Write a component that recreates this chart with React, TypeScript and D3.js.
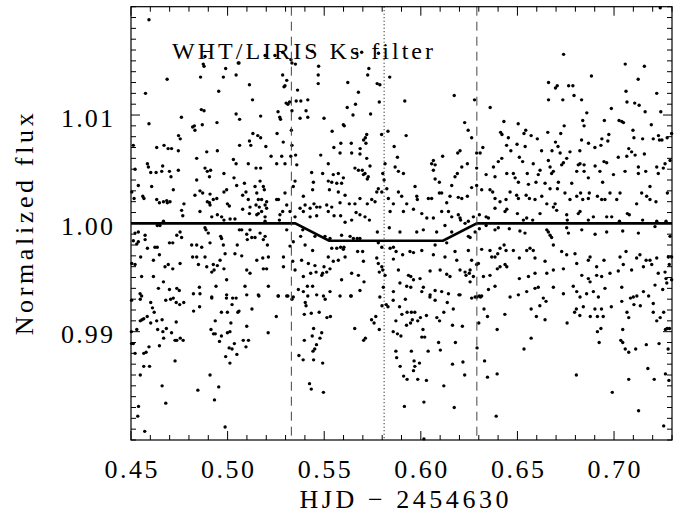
import React from "react";
import * as d3 from "d3";

// Observations: [HJD - 2454630, normalized flux]
const observations: [number, number][] = [
  // upper band
  [0.4593,1.0188],[0.4575,1.0120],[0.4593,1.0092],[0.4512,1.0072],[0.4633,1.0070],[0.4687,1.0133],[0.4671,1.0072],[0.4692,1.0069],[0.4710,1.0069],
  [0.4746,1.0081],[0.4755,1.0078],[0.4761,1.0098],[0.4819,1.0089],[0.4828,1.0090],[0.4831,1.0086],[0.4860,1.0135],[0.4864,1.0105],[0.4878,1.0104],
  [0.4869,1.0091],[0.4878,1.0145],[0.4945,1.0093],[0.4954,1.0122],[0.4978,1.0135],[0.4990,1.0143],[0.5044,1.0137],[0.5044,1.0101],[0.5062,1.0096],
  [0.5059,1.0148],[0.5062,1.0072],[0.5113,1.0128],[0.5113,1.0076],[0.5120,1.0072],[0.5129,1.0114],[0.5131,1.0083],[0.5156,1.0081],[0.5171,1.0079],
  [0.5171,1.0099],[0.5194,1.0155],[0.5198,1.0071],[0.5256,1.0083],[0.5261,1.0103],[0.5270,1.0098],[0.5274,1.0096],[0.5285,1.0137],[0.5292,1.0126],
  [0.5297,1.0127],[0.5288,1.0075],[0.5306,1.0132],[0.5303,1.0111],[0.5312,1.0110],[0.5321,1.0112],[0.5333,1.0148],[0.5351,1.0147],[0.5333,1.0104],
  [0.5330,1.0086],[0.5333,1.0072],[0.5362,1.0123],[0.5355,1.0113],[0.5379,1.0113],[0.5415,1.0114],[0.5375,1.0097],[0.5406,1.0104],[0.5415,1.0098],
  [0.5438,1.0159],[0.5471,1.0145],[0.5469,1.0137],[0.5469,1.0129],[0.5499,1.0097],[0.5541,1.0085],[0.5550,1.0070],[0.5586,1.0074],[0.5599,1.0091],
  [0.5604,1.0090],[0.5622,1.0130],[0.5619,1.0107],[0.5640,1.0074],[0.5649,1.0100],[0.5662,1.0110],[0.5677,1.0121],[0.5686,1.0069],[0.5704,1.0077],
  [0.5713,1.0079],[0.5720,1.0082],[0.5716,1.0074],[0.5725,1.0137],[0.5731,1.0143],[0.5740,1.0101],[0.5774,1.0129],[0.5788,1.0128],[0.5785,1.0112],
  [0.5781,1.0157],[0.5797,1.0082],[0.5830,1.0085],[0.5839,1.0135],[0.5862,1.0071],[0.5917,1.0113],[0.5924,1.0081],
  [0.4874,1.0147],[0.4883,1.0154],[0.5055,1.0148],[0.5245,1.0155],[0.5285,1.0158],[0.5328,1.0151],[0.5668,1.0157],[0.5694,1.0158],
  [0.6173,1.0118],[0.6278,1.0114],[0.6227,1.0093],[0.6245,1.0086],[0.6263,1.0079],[0.6321,1.0070],[0.6359,1.0107],[0.6413,1.0084],[0.6420,1.0082],
  [0.6430,1.0094],[0.6444,1.0072],[0.6453,1.0079],[0.6466,1.0067],[0.6498,1.0073],[0.6504,1.0092],[0.6534,1.0083],[0.6543,1.0086],[0.6540,1.0071],
  [0.6571,1.0081],[0.6603,1.0078],[0.6625,1.0067],[0.6657,1.0084],[0.6661,1.0130],[0.6661,1.0114],[0.6679,1.0067],[0.6697,1.0125],[0.6706,1.0127],
  [0.6697,1.0075],[0.6710,1.0071],[0.6724,1.0083],[0.6739,1.0156],[0.6735,1.0114],[0.6742,1.0090],[0.6765,1.0127],[0.6787,1.0127],[0.6793,1.0118],
  [0.6823,1.0067],[0.6832,1.0114],[0.6838,1.0095],[0.6845,1.0090],[0.6859,1.0102],[0.6832,1.0077],[0.6868,1.0074],[0.6883,1.0136],[0.6901,1.0070],
  [0.6932,1.0072],[0.6937,1.0078],[0.6950,1.0095],[0.6968,1.0076],[0.6973,1.0082],[0.6986,1.0106],[0.7026,1.0095],[0.7040,1.0094],[0.7049,1.0093],
  [0.7058,1.0147],[0.7062,1.0122],[0.7067,1.0112],[0.7076,1.0069],[0.7098,1.0086],[0.7107,1.0111],[0.7130,1.0109],[0.7103,1.0079],[0.7125,1.0133],
  [0.7148,1.0078],[0.7157,1.0145],[0.7161,1.0103],[0.7193,1.0091],[0.7203,1.0078],[0.7221,1.0120],[0.7230,1.0081],[0.7235,1.0077],[0.7248,1.0077],
  [0.7242,1.0103],[0.7239,1.0199],[0.7275,1.0079],[0.7298,1.0083],
  // middle band, left part
  [0.4745,1.0067],[0.4892,1.0066],[0.4947,1.0067],[0.5352,1.0063],[0.5280,1.0062],[0.5327,1.0062],[0.5225,1.0062],[0.5482,1.0063],[0.5582,1.0065],
  [0.5642,1.0065],[0.5685,1.0064],[0.4840,1.0060],[0.5720,1.0060],[0.5030,1.0059],[0.5044,1.0055],[0.4585,1.0055],[0.4664,1.0053],[0.5107,1.0055],
  [0.5254,1.0055],[0.5297,1.0055],[0.5358,1.0054],[0.5521,1.0055],[0.5737,1.0053],[0.5659,1.0051],[0.5677,1.0049],[0.5697,1.0049],[0.5711,1.0046],
  [0.5728,1.0043],[0.4521,1.0050],[0.4590,1.0052],[0.4602,1.0047],[0.4630,1.0047],[0.4659,1.0048],[0.4699,1.0048],[0.4745,1.0049],[0.4883,1.0051],
  [0.4895,1.0048],[0.4912,1.0049],[0.5147,1.0051],[0.5171,1.0051],[0.5435,1.0047],[0.5492,1.0046],[0.4981,1.0046],[0.4906,1.0043],[0.4707,1.0043],
  [0.5573,1.0046],[0.5547,1.0045],[0.5521,1.0039],[0.5565,1.0037],[0.5590,1.0037],[0.5539,1.0038],[0.4840,1.0040],[0.5033,1.0042],[0.4538,1.0035],
  [0.4607,1.0034],[0.5047,1.0035],[0.5087,1.0037],[0.5142,1.0034],[0.5168,1.0039],[0.5185,1.0034],[0.5444,1.0038],[0.5440,1.0031],[0.5349,1.0039],
  [0.5340,1.0034],[0.5599,1.0042],[0.5703,1.0045],[0.5723,1.0041],[0.4719,1.0031],[0.4857,1.0030],[0.4871,1.0028],[0.4909,1.0027],[0.4831,1.0026],
  [0.4944,1.0023],[0.4981,1.0029],[0.4995,1.0031],[0.5095,1.0029],[0.5078,1.0026],[0.5151,1.0028],[0.5159,1.0022],[0.5176,1.0022],[0.5190,1.0031],
  [0.5254,1.0022],[0.5297,1.0028],[0.5527,1.0031],[0.5573,1.0029],[0.5608,1.0026],[0.5685,1.0023],[0.5772,1.0029],[0.5780,1.0032],[0.4561,1.0025],
  [0.4567,1.0023],[0.4633,1.0022],[0.4516,1.0023],[0.4504,1.0029],[0.4685,1.0021],[0.4702,1.0020],[0.4688,1.0019],[0.4774,1.0018],[0.4895,1.0020],
  [0.4906,1.0019],[0.4926,1.0022],[0.4909,1.0017],[0.4999,1.0018],[0.5009,1.0016],[0.5078,1.0013],[0.5107,1.0022],[0.5116,1.0015],[0.5147,1.0017],
  [0.5164,1.0015],[0.5202,1.0014],[0.5194,1.0017],[0.5202,1.0020],[0.5263,1.0022],[0.5306,1.0017],[0.5392,1.0025],[0.5401,1.0017],[0.5447,1.0018],
  [0.5427,1.0014],[0.5461,1.0015],[0.5478,1.0015],[0.5513,1.0017],[0.5539,1.0015],[0.5582,1.0019],[0.5630,1.0018],[0.5659,1.0018],[0.5723,1.0018],
  [0.5746,1.0022],[0.5763,1.0020],[0.4647,1.0019],[0.4668,1.0020],[0.4762,1.0012],[0.4857,1.0011],[0.4768,1.0007],[0.4918,1.0006],[0.4947,1.0008],
  [0.4969,1.0006],[0.5013,1.0004],[0.5038,1.0004],[0.4981,1.0003],[0.5113,1.0009],[0.5159,1.0009],[0.5151,1.0008],[0.5176,1.0011],[0.5194,1.0006],
  [0.5194,1.0002],[0.5268,1.0003],[0.5271,1.0008],[0.5285,1.0011],[0.5323,1.0011],[0.5349,1.0006],[0.5375,1.0014],[0.5392,1.0011],[0.5427,1.0006],
  [0.5461,1.0007],[0.5521,1.0011],[0.5551,1.0007],[0.5585,1.0007],[0.5608,1.0001],[0.5665,1.0010],[0.5642,1.0003],[0.5685,1.0008],[0.5711,1.0006],
  [0.5734,1.0003],[0.4668,1.0002],[0.4636,0.9998],[0.4650,0.9998],
  [0.4521,0.9991],[0.4538,0.9992],[0.4573,0.9989],[0.4754,0.9992],[0.4737,0.9989],[0.4883,0.9996],[0.4888,0.9994],[0.4900,0.9991],[0.5061,0.9994],
  [0.5073,0.9994],[0.5116,0.9994],[0.5099,0.9990],[0.5125,0.9987],[0.5142,0.9987],[0.5168,0.9991],[0.5194,0.9988],[0.5185,0.9985],[0.5306,0.9994],
  [0.5389,0.9994],[0.5378,0.9988],[0.5452,0.9988],[0.5504,0.9988],[0.5530,0.9986],[0.5590,0.9989],[0.5634,0.9988],[0.5651,0.9986],[0.5671,0.9986],
  [0.5685,0.9986],[0.5775,0.9992],[0.5539,0.9977],[0.4573,0.9985],
  [0.4512,0.9984],[0.4530,0.9981],[0.4538,0.9983],[0.4585,0.9977],[0.4624,0.9978],[0.4636,0.9978],[0.4699,0.9982],[0.4716,0.9982],[0.4762,0.9987],
  [0.4814,0.9980],[0.4840,0.9980],[0.4866,0.9978],[0.4909,0.9982],[0.4964,0.9988],[0.4969,0.9986],[0.4978,0.9980],[0.5050,0.9980],[0.5102,0.9985],
  [0.5206,0.9980],[0.5323,0.9979],[0.5340,0.9983],[0.5401,0.9980],[0.5440,0.9975],[0.5565,0.9977],[0.5585,0.9978],[0.5602,0.9978],[0.5673,0.9974],
  [0.5699,0.9974],[0.5780,0.9982],[0.5599,0.9976],
  [0.4504,0.9963],[0.4521,0.9962],[0.4550,0.9969],[0.4616,0.9966],[0.4647,0.9971],[0.4819,0.9969],[0.4840,0.9969],[0.4883,0.9969],[0.4892,0.9960],
  [0.4926,0.9962],[0.4947,0.9961],[0.4961,0.9966],[0.4987,0.9972],[0.5038,0.9972],[0.5073,0.9970],[0.5151,0.9966],[0.5182,0.9968],[0.5211,0.9969],
  [0.5289,0.9969],[0.5337,0.9965],[0.5383,0.9966],[0.5418,0.9963],[0.5452,0.9961],[0.5499,0.9960],[0.5521,0.9969],[0.5547,0.9965],[0.5573,0.9966],
  [0.5608,0.9969],[0.5703,0.9965],[0.5780,0.9963],[0.5772,0.9968],
  [0.4555,0.9951],[0.4676,0.9960],[0.4693,0.9962],[0.4716,0.9958],[0.4754,0.9963],[0.4849,0.9962],[0.4918,0.9955],[0.4930,0.9957],[0.4981,0.9958],
  [0.4995,0.9948],[0.5116,0.9954],[0.5099,0.9957],[0.5185,0.9958],[0.5202,0.9958],[0.5289,0.9960],[0.5349,0.9957],[0.5392,0.9951],[0.5430,0.9954],
  [0.5458,0.9955],[0.5492,0.9954],[0.5487,0.9952],[0.5513,0.9955],[0.5530,0.9958],[0.5590,0.9948],[0.5642,0.9954],[0.5677,0.9952],[0.5706,0.9946],
  [0.5785,0.9955],[0.4616,0.9951],[0.4668,0.9946],[0.4699,0.9939],[0.4737,0.9940],[0.4750,0.9938],[0.4642,0.9940],[0.4823,0.9935],[0.4854,0.9941],
  [0.4857,0.9935],[0.4918,0.9932],[0.4940,0.9942],[0.4995,0.9934],[0.5044,0.9931],[0.5090,0.9942],[0.5099,0.9934],[0.5159,0.9934],[0.5211,0.9942],
  [0.5263,0.9933],[0.5306,0.9933],[0.5340,0.9932],[0.5366,0.9939],[0.5392,0.9937],[0.5413,0.9942],[0.5440,0.9942],[0.5461,0.9934],[0.5496,0.9933],
  [0.5530,0.9937],[0.5582,0.9933],[0.5637,0.9933],[0.5685,0.9938],[0.4547,0.9935],[0.4555,0.9933],
  // middle band, right part
  [0.5815,1.0055],[0.5879,1.0061],[0.5867,1.0052],[0.5910,1.0046],[0.5884,1.0048],[0.6065,1.0058],[0.6074,1.0054],[0.6113,1.0062],[0.6056,1.0055],
  [0.6191,1.0065],[0.6203,1.0067],[0.6212,1.0052],[0.6241,1.0055],[0.6289,1.0065],[0.6307,1.0065],[0.6401,1.0057],[0.6419,1.0060],[0.6510,1.0061],
  [0.6527,1.0057],[0.6582,1.0055],[0.6617,1.0049],[0.6660,1.0058],[0.6669,1.0052],[0.6686,1.0048],[0.6729,1.0054],[0.6738,1.0056],[0.6721,1.0065],
  [0.6772,1.0066],[0.6755,1.0060],[0.6815,1.0054],[0.6824,1.0055],[0.6845,1.0054],[0.6902,1.0053],[0.6948,1.0057],[0.6962,1.0056],[0.7022,1.0061],
  [0.7066,1.0062],[0.7091,1.0066],[0.7109,1.0063],[0.7157,1.0064],[0.7126,1.0052],[0.7221,1.0052],[0.7264,1.0055],[0.7290,1.0058],
  [0.5803,1.0046],[0.5810,1.0040],[0.5824,1.0032],[0.6074,1.0041],[0.6096,1.0038],[0.6177,1.0043],[0.6189,1.0046],[0.6160,1.0035],[0.6065,1.0049],
  [0.6289,1.0051],[0.6338,1.0045],[0.6376,1.0052],[0.6384,1.0043],[0.6445,1.0046],[0.6479,1.0046],[0.6488,1.0042],[0.6505,1.0038],[0.6551,1.0046],
  [0.6557,1.0036],[0.6596,1.0038],[0.6608,1.0045],[0.6643,1.0037],[0.6677,1.0046],[0.6712,1.0038],[0.6781,1.0037],[0.6807,1.0048],[0.6845,1.0048],
  [0.6867,1.0042],[0.6927,1.0048],[0.6941,1.0038],[0.6997,1.0045],[0.7057,1.0048],[0.7126,1.0046],[0.7164,1.0048],[0.7186,1.0034],[0.7229,1.0046],
  [0.7255,1.0051],[0.5798,1.0029],[0.5884,1.0029],[0.5970,1.0034],
  [0.5832,1.0023],[0.5858,1.0018],[0.5901,1.0025],[0.5927,1.0018],[0.5979,1.0025],[0.5982,1.0022],[0.6039,1.0023],[0.6056,1.0023],[0.6096,1.0028],
  [0.6108,1.0028],[0.6134,1.0019],[0.6151,1.0025],[0.6194,1.0024],[0.6212,1.0023],[0.6241,1.0025],[0.6263,1.0033],[0.6289,1.0035],[0.6315,1.0031],
  [0.6358,1.0031],[0.6372,1.0029],[0.6384,1.0023],[0.6410,1.0020],[0.6441,1.0022],[0.6462,1.0029],[0.6496,1.0026],[0.6505,1.0023],[0.6545,1.0026],
  [0.6562,1.0023],[0.6591,1.0022],[0.6626,1.0025],[0.6669,1.0032],[0.6695,1.0018],[0.6707,1.0032],[0.6746,1.0028],[0.6772,1.0022],[0.6807,1.0025],
  [0.6827,1.0028],[0.6838,1.0022],[0.6867,1.0023],[0.6872,1.0028],[0.6914,1.0025],[0.6936,1.0022],[0.6953,1.0022],[0.6979,1.0028],[0.7014,1.0022],
  [0.7031,1.0028],[0.7117,1.0018],[0.7143,1.0028],[0.7169,1.0025],[0.7186,1.0022],[0.7217,1.0020],[0.7276,1.0028],
  [0.5841,1.0011],[0.5910,1.0011],[0.5962,1.0013],[0.6005,1.0009],[0.6031,1.0005],[0.6065,1.0005],[0.6108,1.0011],[0.6143,1.0011],[0.6160,1.0006],
  [0.6194,1.0008],[0.6203,1.0005],[0.6246,1.0002],[0.6272,1.0006],[0.6303,1.0008],[0.6338,1.0006],[0.6350,1.0005],[0.6384,1.0014],[0.6436,1.0011],
  [0.6445,1.0013],[0.6500,1.0009],[0.6531,1.0003],[0.6548,1.0005],[0.6579,1.0003],[0.6617,1.0009],[0.6652,1.0018],[0.6686,1.0015],[0.6703,1.0012],
  [0.6755,1.0008],[0.6758,1.0003],[0.6815,1.0009],[0.6824,1.0011],[0.6867,1.0003],[0.6893,1.0006],[0.6962,1.0006],[0.6988,1.0006],[0.7028,1.0002],
  [0.7069,1.0009],[0.7079,1.0008],[0.7148,1.0003],[0.7221,1.0002],[0.7269,1.0002],
  [0.5837,0.9996],[0.5892,0.9992],[0.5979,0.9992],[0.6013,0.9994],[0.6082,0.9992],[0.6125,0.9998],[0.6160,0.9992],[0.6206,1.0003],[0.6229,1.0000],
  [0.6246,0.9988],[0.6255,0.9987],[0.6281,0.9992],[0.6303,0.9995],[0.6338,0.9998],[0.6384,0.9994],[0.6401,0.9996],[0.6458,0.9995],[0.6513,0.9993],
  [0.6539,0.9991],[0.6652,0.9994],[0.6660,0.9992],[0.6669,0.9989],[0.6677,0.9987],[0.6755,0.9996],[0.6764,0.9991],[0.6833,0.9994],[0.6902,0.9990],
  [0.6962,0.9992],[0.7045,0.9993],[0.7126,0.9991],[0.7212,0.9997],[0.7290,0.9988],
  [0.5798,0.9978],[0.5841,0.9977],[0.5858,0.9978],[0.5872,0.9974],[0.5944,0.9974],[0.5962,0.9973],[0.6005,0.9975],[0.6065,0.9971],[0.6074,0.9980],
  [0.6125,0.9969],[0.6134,0.9982],[0.6177,0.9974],[0.6186,0.9966],[0.6246,0.9975],[0.6263,0.9966],[0.6315,0.9976],[0.6358,0.9975],[0.6367,0.9969],
  [0.6384,0.9969],[0.6398,0.9972],[0.6410,0.9977],[0.6431,0.9980],[0.6441,0.9975],[0.6479,0.9975],[0.6510,0.9968],[0.6548,0.9975],[0.6565,0.9977],
  [0.6582,0.9975],[0.6591,0.9968],[0.6643,0.9965],[0.6686,0.9980],[0.6729,0.9974],[0.6755,0.9971],[0.6798,0.9972],[0.6807,0.9963],[0.6867,0.9966],
  [0.6876,0.9969],[0.6910,0.9960],[0.6948,0.9966],[0.7031,0.9969],[0.7062,0.9974],[0.7117,0.9968],[0.7134,0.9971],[0.7166,0.9966],[0.7186,0.9966],
  [0.7221,0.9968],[0.7281,0.9969],[0.7298,0.9969],[0.7286,0.9962],[0.5858,0.9967],[0.5906,0.9971],[0.5798,0.9960],
  [0.5803,0.9957],[0.5815,0.9952],[0.5884,0.9957],[0.5936,0.9952],[0.5948,0.9951],[0.5962,0.9948],[0.5996,0.9949],[0.6048,0.9956],[0.6100,0.9957],
  [0.6134,0.9953],[0.6151,0.9951],[0.6203,0.9957],[0.6229,0.9955],[0.6234,0.9952],[0.6251,0.9954],[0.6255,0.9957],[0.6289,0.9962],[0.6298,0.9963],
  [0.6324,0.9951],[0.6358,0.9952],[0.6396,0.9958],[0.6410,0.9960],[0.6436,0.9962],[0.6445,0.9960],[0.6510,0.9949],[0.6557,0.9951],[0.6591,0.9954],
  [0.6652,0.9954],[0.6686,0.9957],[0.6738,0.9958],[0.6789,0.9942],[0.6833,0.9952],[0.6867,0.9949],[0.6876,0.9946],[0.6910,0.9952],[0.6936,0.9951],
  [0.6979,0.9954],[0.7022,0.9956],[0.7048,0.9962],[0.7091,0.9957],[0.7152,0.9960],[0.7195,0.9962],[0.7229,0.9954],[0.7264,0.9955],[0.7269,0.9949],
  [0.5806,0.9941],[0.5858,0.9937],[0.5892,0.9945],[0.5927,0.9942],[0.5948,0.9941],[0.6013,0.9941],[0.6005,0.9937],[0.6048,0.9934],[0.6074,0.9938],
  [0.6108,0.9937],[0.6143,0.9935],[0.6203,0.9934],[0.6255,0.9946],[0.6272,0.9951],[0.6281,0.9932],[0.6303,0.9933],[0.6315,0.9933],[0.6350,0.9939],
  [0.6384,0.9942],[0.6462,0.9932],[0.6505,0.9934],[0.6548,0.9937],[0.6591,0.9940],[0.6608,0.9941],[0.6634,0.9931],[0.6686,0.9941],[0.6738,0.9935],
  [0.6807,0.9937],[0.6824,0.9932],[0.6858,0.9935],[0.6893,0.9937],[0.6919,0.9932],[0.6953,0.9940],[0.7040,0.9941],[0.7100,0.9932],[0.7152,0.9937],
  [0.7212,0.9943],[0.7252,0.9939],[0.7273,0.9945],[0.7298,0.9948],
  // lower band
  [0.4503,0.9929],[0.4548,0.9930],[0.4602,0.9927],[0.4611,0.9922],[0.4620,0.9918],[0.4557,0.9911],[0.4566,0.9912],[0.4548,0.9910],[0.4584,0.9914],
  [0.4602,0.9908],[0.4633,0.9910],[0.4638,0.9902],[0.4661,0.9911],[0.4665,0.9900],[0.4669,0.9894],[0.4680,0.9929],[0.4705,0.9930],[0.4719,0.9931],
  [0.4734,0.9927],[0.4752,0.9925],[0.4773,0.9927],[0.4683,0.9903],[0.4710,0.9899],[0.4734,0.9909],[0.4728,0.9892],[0.4737,0.9892],[0.4755,0.9894],
  [0.4770,0.9892],[0.4647,0.9887],[0.4593,0.9886],[0.4530,0.9902],[0.4521,0.9880],[0.4566,0.9880],[0.4578,0.9881],[0.4503,0.9889],[0.4512,0.9889],
  [0.4566,0.9868],[0.4596,0.9868],[0.4548,0.9860],[0.4728,0.9873],[0.4661,0.9850],[0.4680,0.9834],[0.4539,0.9831],[0.4535,0.9822],[0.4571,0.9808],
  [0.4824,0.9919],[0.4855,0.9923],[0.4918,0.9931],[0.4994,0.9931],[0.5026,0.9931],[0.4936,0.9910],[0.4968,0.9918],[0.4999,0.9918],[0.5023,0.9925],
  [0.5053,0.9918],[0.5059,0.9919],[0.5126,0.9921],[0.5162,0.9933],[0.5261,0.9933],[0.5312,0.9933],[0.5333,0.9930],[0.4914,0.9902],[0.4927,0.9898],
  [0.4936,0.9898],[0.4958,0.9891],[0.4968,0.9896],[0.4999,0.9899],[0.5012,0.9900],[0.5017,0.9908],[0.5035,0.9889],[0.5023,0.9884],[0.5008,0.9885],
  [0.4990,0.9877],[0.5012,0.9871],[0.5048,0.9879],[0.5099,0.9905],[0.5081,0.9892],[0.5108,0.9892],[0.5095,0.9886],[0.5210,0.9899],[0.5252,0.9914],
  [0.4909,0.9860],[0.4932,0.9837],[0.4954,0.9849],[0.4846,0.9846],[0.4987,0.9812],
  [0.5402,0.9927],[0.5406,0.9924],[0.5433,0.9917],[0.5474,0.9918],[0.5514,0.9913],[0.5505,0.9930],[0.5532,0.9914],[0.5397,0.9916],[0.5397,0.9892],
  [0.5445,0.9903],[0.5438,0.9896],[0.5487,0.9899],[0.5478,0.9894],[0.5460,0.9888],[0.5451,0.9884],[0.5442,0.9882],[0.5369,0.9878],[0.5391,0.9874],
  [0.5445,0.9874],[0.5492,0.9871],[0.5424,0.9852],[0.5433,0.9847],[0.5496,0.9844],[0.5415,0.9933],[0.5640,0.9933],[0.5658,0.9903],[0.5713,0.9894],
  [0.5704,0.9892],[0.5745,0.9911],[0.5758,0.9908],[0.5767,0.9914],[0.5788,0.9932],[0.5799,0.9924],[0.5821,0.9925],[0.5830,0.9923],[0.5785,0.9902],
  [0.5857,0.9929],[0.5890,0.9923],[0.5902,0.9916],[0.5920,0.9930],[0.5929,0.9918],[0.5951,0.9918],[0.5969,0.9918],[0.5984,0.9910],[0.5998,0.9913],
  [0.6011,0.9902],[0.6005,0.9895],[0.6020,0.9895],[0.6029,0.9915],[0.6047,0.9932],[0.6074,0.9929],[0.6083,0.9913],[0.6097,0.9910],[0.6119,0.9918],
  [0.6137,0.9927],[0.6168,0.9921],[0.6164,0.9906],[0.6197,0.9934],[0.6263,0.9931],[0.6291,0.9932],[0.6309,0.9932],[0.6327,0.9921],[0.6345,0.9914],
  [0.6300,0.9908],[0.6395,0.9902],[0.5871,0.9910],[0.5857,0.9900],[0.5879,0.9898],[0.5947,0.9908],[0.5926,0.9906],[0.5956,0.9911],[0.5897,0.9896],
  [0.5871,0.9882],[0.5875,0.9876],[0.5893,0.9868],[0.5911,0.9859],[0.5929,0.9856],[0.5951,0.9882],[0.5965,0.9873],[0.5969,0.9868],[0.5962,0.9864],
  [0.5984,0.9856],[0.5993,0.9871],[0.6029,0.9855],[0.6038,0.9882],[0.6092,0.9890],[0.6101,0.9883],[0.6119,0.9850],[0.6164,0.9870],[0.6179,0.9890],
  [0.6215,0.9905],[0.6218,0.9872],[0.6227,0.9860],[0.6291,0.9885],[0.6330,0.9873],[0.6345,0.9858],[0.6395,0.9861],[0.5915,0.9831],[0.6016,0.9835],
  [0.6173,0.9830],[0.6390,0.9822],[0.6016,0.9801],
  [0.6435,0.9916],[0.6534,0.9884],[0.6571,0.9894],[0.6571,0.9921],[0.6598,0.9914],[0.6616,0.9924],[0.6643,0.9911],[0.6648,0.9928],[0.6757,0.9908],
  [0.6796,0.9918],[0.6805,0.9921],[0.6823,0.9915],[0.6841,0.9923],[0.6877,0.9914],[0.6901,0.9921],[0.6914,0.9914],[0.6914,0.9900],[0.6932,0.9903],
  [0.6935,0.9921],[0.6944,0.9914],[0.6923,0.9890],[0.6986,0.9923],[0.7040,0.9928],[0.7067,0.9918],[0.7085,0.9931],[0.7076,0.9913],[0.7103,0.9925],
  [0.7118,0.9933],[0.7136,0.9924],[0.7179,0.9933],[0.7203,0.9926],[0.7203,0.9918],[0.7221,0.9910],[0.7239,0.9913],[0.7257,0.9918],[0.7266,0.9902],
  [0.7275,0.9903],[0.7287,0.9903],[0.6805,0.9860],[0.6991,0.9844],[0.7045,0.9902],[0.7035,0.9892],[0.7045,0.9890],[0.7058,0.9884],[0.7076,0.9881],
  [0.7076,0.9856],[0.7112,0.9884],[0.7127,0.9827],[0.7167,0.9888],[0.7175,0.9866],[0.7208,0.9856],[0.7233,0.9889],[0.7266,0.9861],[0.7280,0.9884],
  [0.7284,0.9855],[0.7257,0.9813],[0.4502,0.9900],
];

// Transit model
const modelHjd = [0.45, 0.535, 0.5525, 0.6115, 0.629, 0.73];
const modelFlux = [1.0, 1.0, 0.9984, 0.9984, 1.0, 1.0];

// Vertical markers: contact points (dashed) and mid-transit (dotted)
const contactHjd = [0.533, 0.629];
const midHjd = 0.581;

const xDomain: [number, number] = [0.45, 0.73];
const yDomain: [number, number] = [0.98, 1.02];
const xMajor = [0.45, 0.5, 0.55, 0.6, 0.65, 0.7];
const xMinorStep = 0.01;
const yMajor = [0.99, 1.0, 1.01];
const yMinorStep = 0.001;

const title = "WHT/LIRIS Ks filter";
const xTitle = "HJD \u2212 2454630";
const yTitle = "Normalized flux";

const W = 680, H = 515;
const L = 131, R = 672, T = 6.7, B = 440;
const FONT = "'Liberation Serif', 'DejaVu Serif', serif";

export default function App() {
  const x = d3.scaleLinear().domain(xDomain).range([L, R]);
  const y = d3.scaleLinear().domain(yDomain).range([B, T]);

  const xMinor = d3.range(Math.round((xDomain[1] - xDomain[0]) / xMinorStep) + 1).map(i => xDomain[0] + i * xMinorStep);
  const yMinor = d3.range(Math.round((yDomain[1] - yDomain[0]) / yMinorStep) + 1).map(i => yDomain[0] + i * yMinorStep);
  const isMajor = (v: number, arr: number[]) => arr.some(a => Math.abs(a - v) < 1e-9);

  const line = d3.line<number>().x((_, i) => x(modelHjd[i])).y(d => y(d));
  const modelPath = line(modelFlux) || "";

  const majLen = 9, minLen = 5;

  return (
    <svg width={W} height={H} style={{ position: "absolute", left: 0, top: 0, background: "#fff" }}>
      <rect width={W} height={H} fill="#fff" />
      {/* data points */}
      <g fill="#000">
        {observations.map((d, i) => (
          <circle key={i} cx={x(d[0])} cy={y(d[1])} r={1.7} />
        ))}
      </g>
      {/* model */}
      <path d={modelPath} fill="none" stroke="#000" strokeWidth={2.6} />
      {/* vertical markers */}
      {contactHjd.map((v, i) => (
        <line key={i} x1={x(v)} x2={x(v)} y1={T} y2={B} stroke="#444" strokeWidth={1} strokeDasharray="9,6" />
      ))}
      <line x1={x(midHjd)} x2={x(midHjd)} y1={T} y2={B} stroke="#000" strokeWidth={1} strokeDasharray="1,2.5" />
      {/* frame */}
      <rect x={L} y={T} width={R - L} height={B - T} fill="none" stroke="#000" strokeWidth={1.2} />
      {/* x ticks */}
      <g stroke="#000" strokeWidth={1}>
        {xMinor.map((v, i) => {
          const len = isMajor(v, xMajor) ? majLen : minLen;
          const px = x(v);
          return (
            <g key={i}>
              <line x1={px} x2={px} y1={B} y2={B - len} />
              <line x1={px} x2={px} y1={T} y2={T + len} />
            </g>
          );
        })}
        {yMinor.map((v, i) => {
          const len = isMajor(v, yMajor) ? majLen : minLen;
          const py = y(v);
          return (
            <g key={i}>
              <line x1={L} x2={L + len} y1={py} y2={py} />
              <line x1={R} x2={R - len} y1={py} y2={py} />
            </g>
          );
        })}
      </g>
      {/* tick labels */}
      <g fontFamily={FONT} fontSize={26} fill="#000">
        {xMajor.map((v, i) => (
          <text key={i} x={x(v)} y={478} textAnchor="middle" textLength={53} lengthAdjust="spacing">
            {d3.format(".2f")(v)}
          </text>
        ))}
        {yMajor.map((v, i) => (
          <text key={i} x={113} y={y(v) + 11.5} textAnchor="end" textLength={52} lengthAdjust="spacing">
            {d3.format(".2f")(v)}
          </text>
        ))}
      </g>
      {/* axis titles */}
      <text x={404} y={508} fontFamily={FONT} fontSize={26} textAnchor="middle" textLength={209} lengthAdjust="spacing">
        {xTitle}
      </text>
      <text transform={`translate(33,${(T + B) / 2 + 1}) rotate(-90)`} fontFamily={FONT} fontSize={26} textAnchor="middle" textLength={222} lengthAdjust="spacing">
        {yTitle}
      </text>
      {/* annotation */}
      <text x={172} y={59.3} fontFamily={FONT} fontSize={24} textLength={261} lengthAdjust="spacing">
        {title}
      </text>
    </svg>
  );
}
